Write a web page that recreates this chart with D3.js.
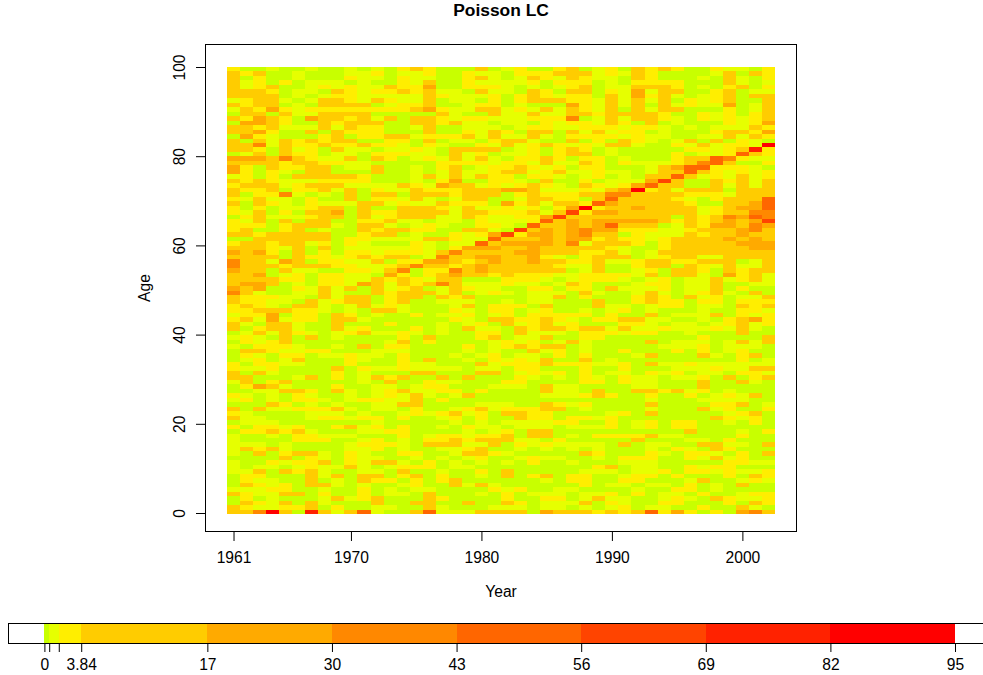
<!DOCTYPE html>
<html><head><meta charset="utf-8">
<script src="https://cdnjs.cloudflare.com/ajax/libs/d3/7.8.5/d3.min.js"></script>
<style>html,body{margin:0;padding:0;background:#fff}svg{display:block}text{font-family:"Liberation Sans",Arial,sans-serif;fill:#000}</style>
</head><body><svg id="c" width="983" height="675"></svg>
<script>
const chartTitle = "Poisson LC";
const xLabel = "Year", yLabel = "Age";
const years = d3.range(1961, 2003);
const ages = d3.range(0, 100);
const xTickValues = [1961, 1970, 1980, 1990, 2000];
const yTickValues = [0, 20, 40, 60, 80, 100];
const breaks = [0, 0.5, 1.5, 3.84, 17, 30, 43, 56, 69, 82, 95];
const breakLabels = ["0", "", "", "3.84", "17", "30", "43", "56", "69", "82", "95"];
const colors = ["#c8ff00", "#e6ff00", "#ffee00", "#ffcc00", "#ffaa00", "#ff8800", "#ff6600", "#ff4400", "#ff2200", "#ff0000"];
// Representative deviance of each band
const bandValues = [0.25, 1, 2.7, 10, 23, 36, 49, 62, 75, 88];
// One string per age from the top of the picture (oldest first); each digit is a year's band
const rowsFromTop = [
"2 0 0 1 0 0 1 0 0 1 0 1 0 2 3 2 0 0 0 3 0 1 2 0 0 2 3 0 1 2 0 3 2 3 2 0 0 2 1 1 0 2",
"3 2 3 0 0 1 0 0 0 1 1 2 0 1 1 2 0 0 2 1 1 0 2 2 2 3 3 3 1 2 1 3 2 0 0 0 0 1 3 0 3 2",
"3 0 2 0 0 1 0 0 0 2 1 1 0 2 1 1 0 0 2 3 1 0 1 3 2 1 3 2 1 1 0 3 2 0 0 0 1 0 3 1 0 2",
"3 1 2 0 2 0 1 1 1 0 1 0 0 2 1 3 0 0 2 1 1 1 1 2 0 2 2 2 0 1 0 2 2 2 2 0 0 0 3 1 0 1",
"3 1 2 3 0 0 1 2 1 2 1 1 3 2 2 4 0 0 2 2 2 1 0 1 0 1 2 3 0 1 1 3 3 3 2 0 1 0 2 3 0 2",
"3 3 3 2 0 1 1 0 3 2 1 2 2 3 2 3 1 1 0 3 1 1 0 3 2 0 3 3 0 2 1 4 1 3 3 0 0 2 3 0 1 1",
"3 3 3 3 0 1 0 1 2 2 1 1 1 1 1 3 2 1 1 1 2 0 2 3 2 1 2 2 0 3 1 4 2 3 1 0 1 2 3 0 3 3",
"1 2 3 3 1 0 1 3 3 2 1 3 2 1 1 3 0 1 1 0 2 0 2 3 3 3 2 2 1 3 1 3 1 3 0 2 1 2 3 0 0 3",
"3 2 3 3 0 1 0 3 3 3 3 0 1 2 2 3 0 0 1 2 2 0 1 0 0 0 4 2 1 3 1 3 0 3 1 2 1 1 4 0 1 3",
"1 3 2 4 2 1 2 2 2 2 2 2 2 2 3 4 2 1 1 3 3 1 2 1 3 1 3 2 1 3 0 3 1 3 3 0 0 0 2 0 1 3",
"0 3 3 0 3 1 1 3 3 3 3 0 0 0 0 0 3 1 0 0 3 1 1 3 1 1 3 3 2 3 3 3 3 2 0 0 2 1 2 0 2 3",
"3 2 4 3 2 0 4 3 3 2 3 1 3 0 3 3 2 1 2 2 1 1 1 2 2 2 5 0 1 3 1 3 3 2 1 0 2 1 2 1 2 3",
"0 4 4 3 2 0 0 3 2 3 3 3 0 0 3 3 2 3 1 1 0 1 1 0 2 1 2 2 1 3 2 0 3 0 1 0 0 0 2 1 2 4",
"3 3 2 3 1 1 1 3 1 3 2 2 0 0 1 3 0 0 1 1 1 0 1 2 2 1 1 2 2 2 1 2 2 1 0 1 0 1 1 1 3 2",
"3 3 4 2 0 0 3 0 3 2 2 2 0 0 0 3 0 0 2 1 3 2 0 3 3 0 3 1 3 1 2 2 0 1 0 0 0 2 3 3 2 4",
"0 4 2 1 0 0 0 2 3 0 2 2 3 3 1 2 2 2 3 1 3 1 1 3 1 0 2 2 2 2 1 2 1 1 0 0 1 1 3 1 3 2",
"3 0 3 1 3 2 3 2 3 3 0 0 2 2 0 3 0 1 1 0 2 3 3 1 0 0 3 0 2 0 3 2 1 0 1 3 0 3 0 2 1 0",
"3 3 5 1 3 2 2 3 2 2 3 2 2 1 0 2 1 0 0 2 1 3 1 2 3 2 1 2 1 3 3 1 0 0 2 1 3 1 2 2 1 9",
"3 3 2 0 3 1 2 0 3 1 1 0 1 1 2 1 0 3 3 3 3 0 1 2 0 2 3 2 0 1 0 0 0 0 0 2 2 1 2 3 8 2",
"0 1 3 0 3 2 2 0 1 1 0 2 2 2 1 1 0 3 1 2 0 1 1 2 0 2 3 3 0 1 0 0 0 0 2 0 1 1 2 6 3 2",
"4 4 4 3 5 3 2 1 1 3 0 3 2 0 1 2 1 3 1 3 1 0 2 2 3 2 0 2 2 0 1 0 0 0 2 3 3 6 5 2 1 1",
"3 3 3 3 2 3 3 2 2 1 1 0 0 0 0 0 2 2 2 2 1 2 2 1 3 1 1 3 2 0 2 1 1 1 2 3 5 6 3 0 0 2",
"4 2 0 3 2 2 3 3 0 1 1 3 0 0 1 0 2 3 0 1 2 2 3 2 1 2 0 2 2 0 0 0 1 3 4 6 6 2 2 2 1 0",
"4 2 0 2 1 0 3 3 0 0 0 3 0 0 1 0 1 3 1 1 2 3 3 1 2 3 1 1 2 1 1 0 1 3 3 6 3 2 1 2 1 2",
"1 2 0 2 0 3 3 3 3 3 2 0 0 0 1 3 1 3 1 3 2 2 0 2 2 1 0 1 2 0 1 0 3 3 6 3 1 2 1 3 1 2",
"3 2 3 2 1 1 1 2 2 2 2 0 0 0 1 0 2 4 0 0 2 2 1 0 3 0 0 2 0 1 1 1 4 7 3 0 0 3 2 3 1 3",
"2 3 3 3 1 2 3 3 3 1 1 1 1 3 2 1 4 3 3 1 2 1 2 3 2 1 0 3 2 1 2 4 6 3 3 0 0 3 1 3 1 3",
"3 2 2 3 0 2 2 3 1 3 0 2 1 1 3 2 2 2 3 3 3 4 4 3 1 1 1 2 1 3 4 9 2 3 1 3 3 3 0 3 3 3",
"3 0 2 2 5 1 0 1 0 3 0 3 3 0 3 3 3 2 3 3 3 0 2 3 2 2 2 3 3 5 5 3 3 3 3 2 2 2 1 3 3 3",
"2 1 3 1 1 0 2 0 0 3 0 2 2 1 3 1 0 1 3 3 0 0 1 3 3 2 2 0 3 6 3 3 3 3 2 1 0 2 3 3 3 6",
"3 0 3 2 1 0 2 1 1 1 3 3 1 2 1 1 3 2 2 2 0 4 2 3 1 3 3 2 6 4 3 3 3 3 3 2 0 0 3 3 4 6",
"2 0 2 0 1 1 2 3 3 0 3 0 0 3 3 3 2 1 3 1 1 2 1 2 0 2 4 9 2 3 3 4 3 3 3 3 1 2 3 4 4 6",
"2 1 3 0 2 0 3 3 4 0 3 2 2 3 3 3 3 1 3 3 2 2 2 3 1 3 7 2 4 4 3 3 3 3 3 3 1 2 3 3 5 5",
"0 2 3 1 1 1 2 3 3 0 3 1 2 3 3 3 1 1 3 2 1 1 2 2 4 7 3 3 3 3 3 3 3 3 0 3 2 3 5 4 6 5",
"2 1 3 0 3 0 3 3 0 0 2 2 3 1 1 0 1 1 0 2 1 1 1 2 6 3 4 3 4 4 4 4 4 3 2 3 2 3 4 3 4 7",
"2 2 2 0 2 3 3 3 1 0 3 3 1 0 1 2 1 0 0 2 2 1 0 6 3 3 4 3 4 6 3 3 3 0 1 3 2 4 4 3 5 4",
"2 3 0 0 2 3 0 1 0 0 3 2 3 3 2 2 0 0 3 3 1 0 7 3 4 3 4 5 4 4 2 2 2 1 1 2 3 3 3 4 5 3",
"3 3 2 3 3 3 3 3 0 0 2 3 3 0 1 0 0 2 1 2 4 7 2 4 4 3 4 5 3 3 0 2 1 1 1 3 2 3 3 4 3 3",
"0 0 3 3 3 3 3 3 0 2 2 1 1 1 1 3 3 2 1 1 6 3 3 3 4 3 4 4 2 3 2 2 1 2 3 3 3 3 4 3 4 3",
"2 3 3 2 3 3 1 2 0 2 1 0 0 0 2 1 0 1 1 6 3 4 4 4 4 3 5 1 3 3 3 2 0 2 3 3 3 3 3 4 4 4",
"3 3 3 2 1 3 0 3 0 1 1 1 1 1 2 1 0 2 4 4 4 3 3 4 3 3 3 3 3 2 1 0 0 2 3 3 3 3 3 3 4 4",
"4 3 4 2 0 3 0 2 0 2 2 1 2 2 2 1 3 5 3 3 3 3 4 4 3 3 3 2 2 3 1 0 1 3 3 3 3 3 3 3 3 3",
"3 3 3 3 0 3 2 2 1 2 3 2 3 3 0 1 5 3 3 4 4 3 3 4 2 1 0 2 3 3 3 0 1 2 3 3 1 1 3 3 3 3",
"5 3 3 1 4 3 0 2 2 1 1 3 0 2 2 4 4 3 2 3 4 3 3 4 3 3 2 2 3 1 1 2 3 3 2 2 3 3 3 0 1 3",
"5 3 3 3 2 3 3 3 2 2 1 1 2 3 5 3 3 2 3 4 3 3 3 3 3 2 1 1 3 0 0 2 3 3 0 3 2 1 3 1 1 3",
"4 3 3 0 3 1 1 0 0 2 2 1 3 5 0 2 2 5 3 4 3 3 3 3 3 3 0 1 3 0 0 1 2 0 3 3 2 0 3 2 3 3",
"3 3 4 0 1 2 0 2 2 1 1 0 4 2 0 2 3 4 3 3 2 3 2 2 2 1 1 2 2 2 2 1 3 0 3 3 1 0 4 2 3 1",
"3 3 3 3 2 2 0 2 2 1 1 3 2 3 2 1 3 3 0 0 0 2 2 2 1 0 1 2 2 2 1 0 1 2 0 1 1 3 1 2 3 1",
"3 4 4 3 0 1 0 2 2 1 4 3 1 3 2 3 5 3 1 1 1 2 1 1 0 1 3 2 0 0 0 1 2 2 0 1 1 3 0 0 1 1",
"4 3 4 0 0 2 1 3 1 3 0 3 1 2 3 0 1 3 2 1 1 0 0 2 2 0 2 2 0 3 1 1 1 2 0 1 1 3 0 2 0 0",
"5 3 1 0 0 1 1 3 1 0 0 3 2 3 3 3 1 3 0 1 2 1 0 1 1 1 0 3 1 0 0 1 3 1 0 1 2 3 1 0 3 0",
"3 2 2 2 1 1 0 3 1 3 3 0 2 3 3 0 3 2 3 0 0 0 0 1 1 3 0 2 0 0 0 2 3 2 0 3 1 2 0 1 1 3",
"3 2 2 1 1 0 3 1 2 3 3 0 2 3 0 0 1 1 1 0 0 1 0 1 1 0 0 0 3 0 0 2 3 2 2 0 2 2 0 2 2 2",
"2 3 2 1 0 3 3 1 0 1 3 1 2 1 0 0 0 1 3 0 2 2 2 0 3 0 0 0 3 1 1 0 1 2 2 0 1 1 0 3 2 3",
"2 2 3 3 3 2 2 1 0 1 0 3 3 1 0 0 0 2 1 0 2 2 0 1 2 0 0 1 0 1 2 0 1 0 0 0 1 0 0 2 2 1",
"1 2 2 4 0 2 2 0 3 2 0 1 0 0 2 0 1 1 2 0 1 2 0 2 2 2 2 2 0 2 0 0 3 0 1 1 1 3 0 2 1 2",
"2 3 1 4 1 2 2 0 3 3 1 0 0 0 0 0 0 2 1 0 3 3 2 2 3 2 1 0 2 2 3 3 1 1 0 0 1 0 2 3 4 2",
"3 1 0 3 3 1 0 0 3 0 0 0 2 0 0 0 1 0 1 2 0 3 1 2 3 1 2 0 0 0 2 2 1 0 1 1 0 1 2 3 1 2",
"3 0 2 3 3 1 0 0 3 1 2 0 0 0 2 0 1 0 3 1 1 0 3 2 3 3 2 3 3 1 3 1 1 2 1 1 1 2 1 3 1 0",
"0 1 3 1 3 2 1 0 1 2 3 1 1 2 1 0 1 0 0 2 2 0 3 1 1 1 0 2 2 2 1 2 2 0 0 1 0 0 0 3 0 0",
"1 2 1 0 3 0 3 0 1 0 0 0 0 2 0 3 0 0 0 2 3 0 1 1 3 0 0 2 2 0 0 0 0 0 0 0 2 0 0 0 0 3",
"0 2 1 2 3 0 0 0 0 0 0 0 1 3 0 2 0 0 0 0 1 2 1 2 0 1 3 1 0 0 0 0 3 0 1 1 1 0 1 3 1 3",
"1 0 2 2 2 1 0 0 1 0 3 0 2 2 0 0 0 0 2 0 1 2 3 2 3 3 0 1 0 0 0 0 0 1 1 1 2 0 1 1 1 0",
"0 3 3 2 1 1 2 2 0 0 0 1 1 1 0 0 0 0 1 0 1 0 0 3 1 2 0 1 0 0 2 0 0 0 2 0 2 0 1 2 0 0",
"0 2 1 0 2 2 0 1 1 2 1 1 0 2 0 0 0 1 0 1 2 0 1 1 0 2 0 2 0 0 0 1 3 0 0 0 3 1 0 2 3 0",
"0 1 2 0 1 3 0 0 0 2 1 0 0 2 0 3 0 0 1 0 2 1 2 1 3 0 0 3 0 1 0 0 0 0 0 0 0 0 0 2 0 1",
"2 0 2 2 1 1 0 0 0 2 0 0 0 2 1 1 0 0 0 3 1 2 2 2 3 2 2 2 1 1 2 0 3 1 1 2 1 1 1 1 1 1",
"2 1 1 2 0 0 0 0 3 0 2 1 1 2 1 1 1 1 0 1 1 0 2 2 0 0 0 2 0 0 2 0 0 0 1 1 1 2 1 1 3 3",
"3 0 3 1 0 0 0 0 2 0 1 0 0 0 3 3 0 0 0 3 3 0 1 2 1 2 0 2 0 1 1 0 2 1 2 0 1 1 0 2 2 1",
"3 3 0 0 0 1 3 0 2 0 1 3 2 3 0 0 3 0 3 0 0 0 2 1 0 1 0 2 1 0 2 1 1 0 1 1 2 0 3 0 2 3",
"1 3 0 2 3 0 0 0 0 0 1 0 3 0 0 2 1 1 0 0 0 2 2 0 0 0 0 2 2 0 2 1 1 0 0 0 3 0 0 3 1 0",
"0 2 4 3 1 0 0 0 2 0 0 1 1 0 1 2 2 0 0 0 1 1 1 0 3 1 1 0 0 0 0 1 1 0 0 0 3 0 0 0 0 0",
"0 0 1 1 3 3 2 0 3 1 0 1 2 3 1 1 2 2 0 2 0 0 0 0 3 1 1 0 3 0 0 3 3 2 3 1 2 0 1 0 0 0",
"2 1 0 1 0 2 1 0 0 1 0 1 2 1 3 1 0 1 3 0 0 0 0 0 1 1 1 2 3 2 0 0 2 0 0 2 0 1 2 1 3 0",
"1 2 0 1 0 2 2 1 0 1 2 2 1 1 3 0 2 0 0 0 0 0 0 0 0 0 0 0 0 0 0 0 1 0 0 0 1 1 1 1 0 0",
"0 0 0 3 2 0 1 0 1 0 0 1 1 3 3 0 0 0 0 1 1 1 0 0 3 2 1 2 0 0 0 0 3 0 0 0 0 2 2 3 0 1",
"3 0 3 1 1 2 2 2 3 1 0 1 1 0 2 0 0 1 2 3 1 2 2 2 3 3 0 1 0 0 0 0 1 0 0 0 3 1 2 0 0 2",
"2 1 0 0 0 0 1 1 1 0 1 0 0 1 2 1 2 3 1 2 0 3 3 2 2 0 0 0 0 1 2 0 3 0 0 0 0 0 1 2 3 0",
"3 1 1 0 0 0 1 2 2 1 2 2 0 2 0 0 1 2 0 2 0 0 3 2 2 0 2 2 1 2 0 0 0 0 0 0 0 3 2 1 2 0",
"0 1 1 1 0 0 0 0 0 0 0 1 0 0 0 0 0 1 0 1 0 1 1 1 1 2 2 0 0 2 0 1 2 0 2 2 0 0 1 0 2 0",
"2 0 2 2 1 2 0 0 2 3 1 2 0 2 0 0 1 0 2 1 1 0 1 1 1 0 1 1 1 2 0 1 2 0 2 2 0 0 0 0 0 0",
"0 2 2 3 2 3 1 0 0 0 1 1 2 2 0 0 0 0 1 0 1 2 0 3 3 0 0 0 0 0 0 0 0 0 0 3 0 0 0 1 0 2",
"1 0 0 1 0 2 2 1 1 1 0 0 0 2 0 1 2 2 1 2 2 3 0 3 3 0 1 0 2 2 2 2 3 1 1 0 0 0 0 2 0 0",
"1 0 0 0 0 2 2 2 0 0 1 2 0 1 0 2 2 3 2 3 3 3 1 1 0 2 0 0 0 0 0 3 0 0 0 1 1 0 2 0 0 0",
"1 1 1 0 1 0 0 0 0 1 2 2 2 1 0 3 3 3 1 1 3 0 2 1 2 1 1 1 1 0 3 0 1 1 0 0 3 3 1 1 0 3",
"1 3 2 3 1 0 0 0 0 1 1 2 0 1 0 0 1 1 2 3 0 0 1 0 1 0 1 0 1 0 0 0 1 0 2 1 0 3 2 0 0 0",
"1 0 3 0 2 3 3 1 0 2 1 0 0 2 2 0 0 1 3 3 2 1 0 0 0 0 0 3 2 0 0 0 2 1 0 2 2 1 0 2 0 3",
"0 0 0 0 3 0 2 1 0 2 1 1 0 0 1 0 1 0 1 2 0 0 1 2 1 1 0 0 1 0 2 2 2 0 0 2 1 3 1 2 0 0",
"1 0 0 2 1 2 2 3 0 2 1 3 3 1 0 2 0 1 0 1 0 1 0 2 0 0 1 0 0 0 1 1 1 0 0 0 0 0 2 2 1 1",
"1 0 1 1 0 1 2 1 1 3 1 0 1 2 2 2 0 1 1 0 0 0 0 0 0 0 0 0 2 3 0 1 1 0 0 2 1 2 2 0 0 0",
"1 1 3 0 3 2 3 1 0 0 1 1 0 3 0 0 1 0 0 2 0 3 0 0 0 0 0 1 1 1 0 1 1 2 0 2 2 1 2 1 1 2",
"0 2 2 0 0 0 3 1 3 0 3 3 0 2 3 0 2 0 0 1 0 3 0 2 3 0 2 2 0 0 1 2 2 0 2 0 0 0 2 0 3 2",
"0 2 1 1 0 0 3 0 1 0 3 2 2 0 2 0 2 3 0 0 0 0 0 0 1 0 2 2 0 0 2 2 0 0 0 1 3 0 0 1 2 1",
"0 3 2 1 2 0 3 3 1 0 1 0 0 1 2 0 0 3 1 3 1 0 0 0 0 0 0 2 0 1 1 0 1 1 0 2 0 1 0 3 0 0",
"1 1 1 2 2 0 0 1 0 0 2 0 1 0 1 1 0 0 0 0 2 1 2 0 0 1 1 0 0 0 0 1 0 0 2 2 0 1 0 0 0 0",
"3 2 1 1 3 3 0 2 0 0 2 0 1 1 0 3 0 0 0 1 0 2 0 1 1 1 0 1 1 2 0 2 0 1 1 0 2 0 0 1 2 2",
"0 2 0 1 0 0 0 1 3 1 2 3 0 0 0 3 2 0 0 0 0 2 0 0 2 2 0 1 3 1 1 0 0 1 2 1 0 3 2 1 1 2",
"0 3 2 1 3 0 3 1 0 0 0 3 0 0 3 3 0 0 3 0 0 3 2 0 1 1 1 3 0 2 1 0 0 2 2 0 0 0 2 0 3 2",
"3 2 1 1 2 2 3 0 2 0 0 1 1 0 0 3 1 0 0 0 1 1 1 0 1 1 0 1 0 1 2 0 1 1 0 0 2 0 0 3 1 0",
"3 3 5 9 3 0 8 3 1 3 6 1 0 0 3 6 1 1 1 3 3 3 3 0 4 3 3 3 2 3 2 3 6 2 4 2 0 2 0 4 5 3"
];

const labelFont = 15.6, titleFont = 17.4;
const fontFamily = '"Liberation Sans",Arial,sans-serif';
const bandColor = d3.scaleThreshold().domain(breaks.slice(1, -1)).range(colors);
const cells = rowsFromTop.flatMap((row, r) => {
  const vals = row.split(" ");
  return years.map((year, i) => ({ year, age: ages[ages.length - 1 - r], value: bandValues[+(vals[i] ?? 0)] }));
});

const svg = d3.select("#c");
const xBand = d3.scaleBand().domain(years).range([227, 775]);
const yBand = d3.scaleBand().domain(ages).range([514, 67]);
const xAxisScale = d3.scaleLinear().domain([1960.5, 2002.5]).range([227, 775]);
const yAxisScale = d3.scaleLinear().domain([0, 100]).range([513, 67]);
const legendScale = d3.scaleLinear().domain([0, 95]).range([44.4, 955]);

svg.append("g").attr("shape-rendering", "crispEdges").selectAll("rect").data(cells).join("rect")
  .attr("x", d => Math.round(xBand(d.year)))
  .attr("y", d => Math.round(yBand(d.age)))
  .attr("width", d => Math.round(xBand(d.year) + xBand.bandwidth()) - Math.round(xBand(d.year)))
  .attr("height", d => Math.round(yBand(d.age) + yBand.bandwidth()) - Math.round(yBand(d.age)))
  .attr("fill", d => bandColor(d.value));

svg.append("rect").attr("x", 205.5).attr("y", 44.5).attr("width", 591).attr("height", 487)
  .attr("fill", "none").attr("stroke", "#000");

const xAxis = svg.append("g").attr("transform", "translate(0,532)")
  .call(d3.axisBottom(xAxisScale).tickValues(xTickValues).tickFormat(d3.format("d")).tickSize(9).tickPadding(11));
xAxis.select(".domain").remove();
xAxis.selectAll("text").attr("font-size", labelFont).style("font-family", fontFamily);

const yAxis = svg.append("g").attr("transform", "translate(205,0)")
  .call(d3.axisLeft(yAxisScale).tickValues(yTickValues).tickSize(9).tickPadding(0));
yAxis.select(".domain").remove();
yAxis.selectAll("text").attr("font-size", labelFont).attr("dy", 0).attr("x", 0).attr("y", 0)
  .attr("text-anchor", "middle").attr("transform", "translate(-20,0) rotate(-90)")
  .style("font-family", fontFamily);

svg.append("text").attr("x", 501).attr("y", 15.5).attr("text-anchor", "middle")
  .attr("font-size", titleFont).attr("font-weight", "bold").text(chartTitle);
svg.append("text").attr("x", 501).attr("y", 597).attr("text-anchor", "middle").attr("font-size", labelFont).text(xLabel);
svg.append("text").attr("transform", "translate(150,288) rotate(-90)").attr("text-anchor", "middle").attr("font-size", labelFont).text(yLabel);

// Colour legend
const legend = svg.append("g");
legend.attr("shape-rendering", "crispEdges").selectAll("rect").data(colors).join("rect")
  .attr("x", (d, i) => legendScale(breaks[i]))
  .attr("width", (d, i) => legendScale(breaks[i + 1]) - legendScale(breaks[i]))
  .attr("y", 623).attr("height", 21).attr("fill", d => d);
legend.append("rect").attr("x", 8.5).attr("y", 623.5).attr("width", 980).attr("height", 20)
  .attr("fill", "none").attr("stroke", "#000");
const legendAxis = svg.append("g").attr("transform", "translate(0,644)")
  .call(d3.axisBottom(legendScale).tickValues(breaks).tickFormat((d, i) => breakLabels[i]).tickSize(8).tickPadding(7));
legendAxis.select(".domain").remove();
legendAxis.selectAll("text").attr("font-size", labelFont).style("font-family", fontFamily);
</script></body></html>
